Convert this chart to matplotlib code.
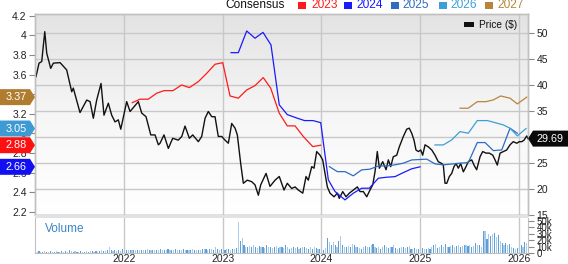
import numpy as np
import matplotlib
matplotlib.use("Agg")
import matplotlib.pyplot as plt
from matplotlib.patches import Polygon, Rectangle
from matplotlib.transforms import IdentityTransform

plt.rcParams['font.family'] = ['Liberation Sans', 'DejaVu Sans']

# ---------------- data ----------------
price_t = [2021.108, 2021.139, 2021.166, 2021.197, 2021.217, 2021.257, 2021.284, 2021.352, 2021.419, 2021.470,
           2021.486, 2021.554, 2021.622, 2021.656, 2021.689, 2021.723, 2021.767, 2021.797, 2021.841, 2021.875,
           2021.909, 2021.942, 2021.967,
           2022.027, 2022.061, 2022.145, 2022.179, 2022.223, 2022.271, 2022.314, 2022.348, 2022.365, 2022.405,
           2022.449, 2022.493, 2022.550, 2022.585, 2022.618, 2022.662, 2022.696, 2022.753, 2022.787, 2022.821,
           2022.854, 2022.889, 2022.922, 2022.955, 2022.990,
           2023.023, 2023.057, 2023.091, 2023.125, 2023.148, 2023.182, 2023.209, 2023.249, 2023.294, 2023.327,
           2023.361, 2023.385, 2023.439, 2023.479, 2023.530, 2023.573, 2023.621, 2023.654, 2023.699, 2023.733,
           2023.766, 2023.811, 2023.844, 2023.867, 2023.902, 2023.925, 2023.952, 2023.986,
           2024.013, 2024.036, 2024.060, 2024.087, 2024.128, 2024.161, 2024.181, 2024.216, 2024.249, 2024.283,
           2024.323, 2024.364, 2024.391, 2024.425, 2024.459, 2024.492, 2024.520, 2024.543, 2024.566, 2024.587,
           2024.621, 2024.655, 2024.678, 2024.702, 2024.728, 2024.763, 2024.789, 2024.830, 2024.864, 2024.890,
           2024.915, 2024.938, 2024.958, 2024.982,
           2025.006, 2025.026, 2025.050, 2025.083, 2025.118, 2025.151, 2025.184, 2025.219, 2025.235, 2025.252,
           2025.270, 2025.296, 2025.320, 2025.343, 2025.364, 2025.387, 2025.411, 2025.438, 2025.465, 2025.488,
           2025.523, 2025.546, 2025.573, 2025.607, 2025.634, 2025.668, 2025.701, 2025.736, 2025.759, 2025.782,
           2025.810, 2025.843, 2025.877, 2025.911, 2025.944, 2025.979,
           2026.005, 2026.030, 2026.053, 2026.080, 2026.093]
price_v = [41.6, 44.2, 44.5, 50.25, 46.1, 43.2, 44.2, 44.3, 42.9, 38.7,
           39.4, 34.7, 37.1, 36.8, 33.6, 37.1, 40.3, 34.2, 36.5, 34.2,
           32.9, 33.3, 31.5,
           36.8, 34.9, 36.8, 34.6, 33.9, 30.4, 30.4, 28.5, 28.8, 30.4,
           27.8, 29.75, 29.4, 30.1, 32.1, 29.75, 30.4, 29.1, 30.1, 33.6,
           34.9, 33.9, 33.9, 30.1, 30.1,
           29.4, 28.8, 32.6, 31.7, 30.4, 24.9, 21.1, 21.7, 21.4, 20.8,
           18.8, 20.8, 23.0, 20.5, 21.7, 22.4, 19.8, 21.1, 20.1, 20.4,
           19.8, 19.2, 22.4, 21.7, 24.3, 24.0, 27.2, 26.5,
           25.6, 23.0, 20.4, 19.2, 18.5, 19.2, 18.2, 19.5, 18.5, 19.2,
           19.8, 20.4, 19.5, 19.5, 18.5, 19.8, 20.8, 23.3, 27.2, 24.0,
           25.25, 23.7, 25.6, 24.3, 26.2, 26.5, 28.1, 30.1, 31.5, 31.7,
           30.7, 29.4, 27.5, 27.2,
           27.5, 26.5, 28.5, 28.1, 27.5, 26.5, 25.25, 24.9, 24.6, 21.1,
           21.1, 22.4, 23.0, 24.3, 24.9, 24.0, 24.9, 23.3, 24.3, 25.25,
           25.6, 24.6, 23.7, 26.2, 27.2, 26.9, 26.9, 26.5, 25.6, 24.6,
           26.9, 27.2, 27.5, 28.5, 29.1, 28.8,
           29.1, 29.1, 29.4, 30.2, 29.69]

eps2023_t = [2022.084, 2022.162, 2022.246, 2022.331, 2022.405, 2022.496, 2022.583, 2022.662, 2022.753, 2022.838,
             2022.922, 2023.000, 2023.074, 2023.158, 2023.243, 2023.327, 2023.411, 2023.486, 2023.573, 2023.654,
             2023.733, 2023.817, 2023.912, 2023.993]
eps2023_v = [3.314, 3.349, 3.349, 3.41, 3.436, 3.436, 3.494, 3.467, 3.528, 3.613,
             3.705, 3.721, 3.382, 3.359, 3.443, 3.487, 3.569, 3.461, 3.206, 3.077,
             3.077, 2.968, 2.866, 2.88]

eps2024_t = [2023.084, 2023.158, 2023.243, 2023.327, 2023.408, 2023.489, 2023.573, 2023.654, 2023.748, 2023.829,
             2023.915, 2023.993, 2024.070, 2024.138, 2024.239, 2024.323, 2024.408, 2024.485, 2024.577, 2024.662,
             2024.746, 2024.830, 2024.915, 2024.999]
eps2024_v = [3.823, 3.823, 4.044, 3.970, 4.030, 3.902, 3.291, 3.192, 3.158, 3.131,
             3.131, 3.110, 2.527, 2.408, 2.323, 2.391, 2.442, 2.442, 2.544, 2.554,
             2.560, 2.601, 2.64, 2.66]

eps2025_t = [2024.080, 2024.161, 2024.239, 2024.323, 2024.408, 2024.492, 2024.577, 2024.662, 2024.746, 2024.830,
             2024.915, 2025.067, 2025.151, 2025.235, 2025.336, 2025.404, 2025.488, 2025.579, 2025.658, 2025.742,
             2025.827, 2025.911, 2025.985]
eps2025_v = [2.662, 2.611, 2.611, 2.568, 2.629, 2.636, 2.669, 2.669, 2.680, 2.697,
             2.73, 2.738, 2.690, 2.680, 2.690, 2.697, 2.703, 2.907, 2.907, 2.825,
             2.832, 3.053, 3.002]

eps2026_t = [2025.151, 2025.235, 2025.320, 2025.404, 2025.488, 2025.579, 2025.681, 2025.759, 2025.843, 2025.911,
             2025.985, 2026.073]
eps2026_v = [2.883, 2.883, 2.934, 3.019, 3.002, 3.131, 3.131, 3.110, 3.087, 3.053,
             2.975, 3.05]

eps2027_t = [2025.404, 2025.488, 2025.579, 2025.668, 2025.742, 2025.817, 2025.911, 2025.985, 2026.080]
eps2027_v = [3.257, 3.257, 3.324, 3.324, 3.342, 3.382, 3.359, 3.301, 3.37]

# weekly volume (thousands), first bar at vol_start
vol_start = 2021.1
volume_k = [3, 2, 3, 2, 2, 3, 2, 2, 3, 2, 2, 3, 2, 2, 3, 2, 3, 2, 4, 3,
            2, 3, 2, 2, 3, 2, 2, 3, 2, 3, 3, 2, 3, 2, 3, 4, 3, 3, 4, 9,
            5, 3, 4, 3, 4, 3, 7,
            4, 5, 4, 5, 4, 5, 5, 4, 5, 4, 5, 4, 6, 5, 4, 5, 4, 5, 5, 6,
            5, 4, 5, 6, 5, 4, 5, 6, 5, 4, 5, 6, 5, 5, 4, 5, 6, 5, 4, 5,
            5, 6, 7, 6, 5, 6, 7, 5, 9, 6, 5, 7,
            6, 5, 7, 6, 5, 6, 7, 8, 49, 19, 23, 12, 10, 9, 11, 10, 12, 9, 8, 11,
            9, 10, 8, 12, 9, 10, 8, 9, 11, 8, 10, 9, 8, 12, 9, 7, 8, 10, 8, 9,
            7, 8, 9, 10, 8, 6, 9, 7, 10, 8, 6, 7,
            6, 5, 8, 23, 17, 12, 17, 13, 10, 18, 27, 12, 10, 9, 11, 10, 14, 12, 9, 10,
            8, 7, 9, 11, 10, 9, 12, 14, 10, 8, 9, 7, 10, 13, 9, 8, 10, 9, 12, 8,
            7, 8, 10, 9, 8, 9, 11, 6, 7, 8, 7, 6,
            5, 8, 7, 6, 8, 7, 9, 13, 14, 8, 10, 12, 9, 14, 10, 9, 11, 12, 10, 11,
            12, 10, 11, 12, 13, 11, 12, 10, 11, 15, 12, 13, 10, 35, 35, 22, 30, 27, 29, 31,
            25, 28, 18, 15, 13, 16, 12, 14, 10, 8, 6, 8,
            6, 12, 10, 17, 15]

years = [2022, 2023, 2024, 2025, 2026]
price_ticks = [15, 20, 25, 30, 35, 40, 45, 50]
eps_ticks = [2.2, 2.4, 2.6, 2.8, 3.0, 3.2, 3.4, 3.6, 3.8, 4.0, 4.2]
eps_tick_labels = ['2.2', '2.4', '2.6', '2.8', '3', '3.2', '3.4', '3.6', '3.8', '4', '4.2']
vol_ticks = [0, 10, 20, 30, 40, 50]
vol_tick_labels = ['0', '10k', '20k', '30k', '40k', '50k']

series_names = ['2023', '2024', '2025', '2026', '2027']
series_colors = ['#ff1a1a', '#1a1aff', '#2f6cc0', '#3d9fd6', '#b8843a']
badge_values = [3.37, 3.05, 2.88, 2.66]
badge_colors = ['#b07d30', '#3d9ad2', '#ff1010', '#1010f0']
last_price = 29.69

# ---------------- figure ----------------
W, H = 568, 264
fig = plt.figure(figsize=(W / 100, H / 100), dpi=100)
fig.patch.set_facecolor('white')

ax = fig.add_axes([35 / W, 1 - 215 / H, 493 / W, 201 / H])       # price (right)
vax = fig.add_axes([35 / W, 1 - 253 / H, 493 / W, 35 / H])       # volume
ax2 = ax.twinx()                                                 # EPS (left)

grid_c = '#c8c8c8'
spine_c = '#c0c0c0'
xmin, xmax = 2021.098, 2026.093

# gradient background
grad = np.linspace(0, 1, 200).reshape(-1, 1)
cm = matplotlib.colors.LinearSegmentedColormap.from_list('g', ['#e3e3e3', '#f6f6f6', '#ffffff'])
ax.imshow(grad, extent=[0, 1, 0, 1], transform=ax.transAxes, aspect='auto', cmap=cm, zorder=0,
          origin='upper')

ax.plot(price_t, price_v, color='#111111', lw=1.0, zorder=3)
ax.set_xlim(xmin, xmax)
ax.set_ylim(15.0, 53.65)
ax.yaxis.tick_right()
ax.set_yticks(price_ticks)
ax.set_yticklabels([str(v) for v in price_ticks])
ax.set_xticks(years)
ax.tick_params(axis='x', length=0, labelbottom=False)
ax.tick_params(axis='y', right=True, left=False, labelright=True, labelleft=False,
               length=4, width=0.8, color='#888888', labelsize=7.5, pad=2, labelcolor='#222222')
ax.grid(True, color=grid_c, lw=1.0, zorder=1)
ax.set_axisbelow(True)

for name, t, v, c in zip(series_names,
                         [eps2023_t, eps2024_t, eps2025_t, eps2026_t, eps2027_t],
                         [eps2023_v, eps2024_v, eps2025_v, eps2026_v, eps2027_v],
                         series_colors):
    ax2.plot(t, v, color=c, lw=0.9)
ax2.set_xlim(xmin, xmax)
ax2.set_ylim(2.169, 4.217)
ax2.yaxis.tick_left()
ax2.set_yticks(eps_ticks)
ax2.set_yticklabels(eps_tick_labels)
ax2.tick_params(axis='y', left=True, right=False, labelleft=True, labelright=False,
                length=4, width=0.8, color='#888888', labelsize=7.5, pad=2, labelcolor='#222222')
for a in (ax, ax2):
    for s in a.spines.values():
        s.set_color(spine_c)
        s.set_linewidth(1.0)

# volume
vol_t = vol_start + np.arange(len(volume_k)) / 52.0
vcols = ['#5f9fd8' if i % 2 == 0 else '#a9cbec' for i in range(len(volume_k))]
vax.bar(vol_t, volume_k, width=0.6 / 52, color=vcols, linewidth=0, zorder=2)
vax.set_xlim(xmin, xmax)
vax.set_ylim(0, 54.6)
vax.set_xticks(years)
vax.set_xticklabels([str(y) for y in years])
vax.tick_params(axis='x', length=0, labelsize=7.5, pad=1, labelcolor='#222222')
vax.yaxis.tick_right()
vax.set_yticks(vol_ticks)
vax.set_yticklabels(vol_tick_labels)
vax.tick_params(axis='y', right=True, left=False, length=4, width=0.8, color='#888888',
                labelsize=7, pad=2, labelcolor='#222222')
vax.grid(True, axis='x', color=grid_c, lw=1.0, zorder=1)
vax.set_axisbelow(True)
for s in vax.spines.values():
    s.set_color(spine_c)
vax.spines['top'].set_visible(False)

# separator band
fig.patches.append(Rectangle((35 / W, 1 - 218 / H), 493 / W, 3 / H, transform=fig.transFigure,
                             facecolor='#e2e2e2', edgecolor='none'))
fig.text(45 / W, 1 - 229 / H, 'Volume', color='#3a86c6', fontsize=8.5, va='center', ha='left')

# consensus legend
fig.text(225 / W, 1 - 5 / H, 'Consensus', color='#111111', fontsize=8.6, va='center', ha='left')
sq_x = [297.5, 344, 391, 438.5, 484.5]
tx_x = [311, 356.5, 402, 450.5, 497]
for name, c, sx, tx in zip(series_names, series_colors, sq_x, tx_x):
    fig.patches.append(Rectangle((sx / W, 1 - 8.5 / H), 8 / W, 7 / H, transform=fig.transFigure,
                                 facecolor=c, edgecolor='none'))
    fig.text(tx / W, 1 - 5 / H, name, color=c, fontsize=8.6, va='center', ha='left')

# price legend
fig.patches.append(Rectangle((464 / W, 1 - 27 / H), 10 / W, 4.5 / H, transform=fig.transFigure,
                             facecolor='#111111', edgecolor='none'))
fig.text(479 / W, 1 - 25.5 / H, 'Price ($)', color='#111111', fontsize=7.3, va='center', ha='left')

# badges
idt = IdentityTransform()
for val, c in zip(badge_values, badge_colors):
    yc = ax2.transData.transform((xmin, val))[1]
    poly = Polygon([(0, yc - 8), (30, yc - 8), (35, yc), (30, yc + 8), (0, yc + 8)],
                   closed=True, facecolor=c, edgecolor='none', transform=idt, zorder=10)
    fig.patches.append(poly)
    fig.text(16 / W, yc / H, f'{val:.2f}', color='white', fontsize=7.8, va='center', ha='center', zorder=11)

yc = ax.transData.transform((xmax, last_price))[1]
fig.patches.append(Polygon([(528, yc), (533, yc - 8), (568, yc - 8), (568, yc + 8), (533, yc + 8)],
                           closed=True, facecolor='#0a0a0a', edgecolor='none', transform=idt, zorder=10))
fig.text(550 / W, yc / H, f'{last_price:.2f}', color='white', fontsize=7.8, va='center', ha='center',
         zorder=11)

fig.savefig('out.png', dpi=100)
